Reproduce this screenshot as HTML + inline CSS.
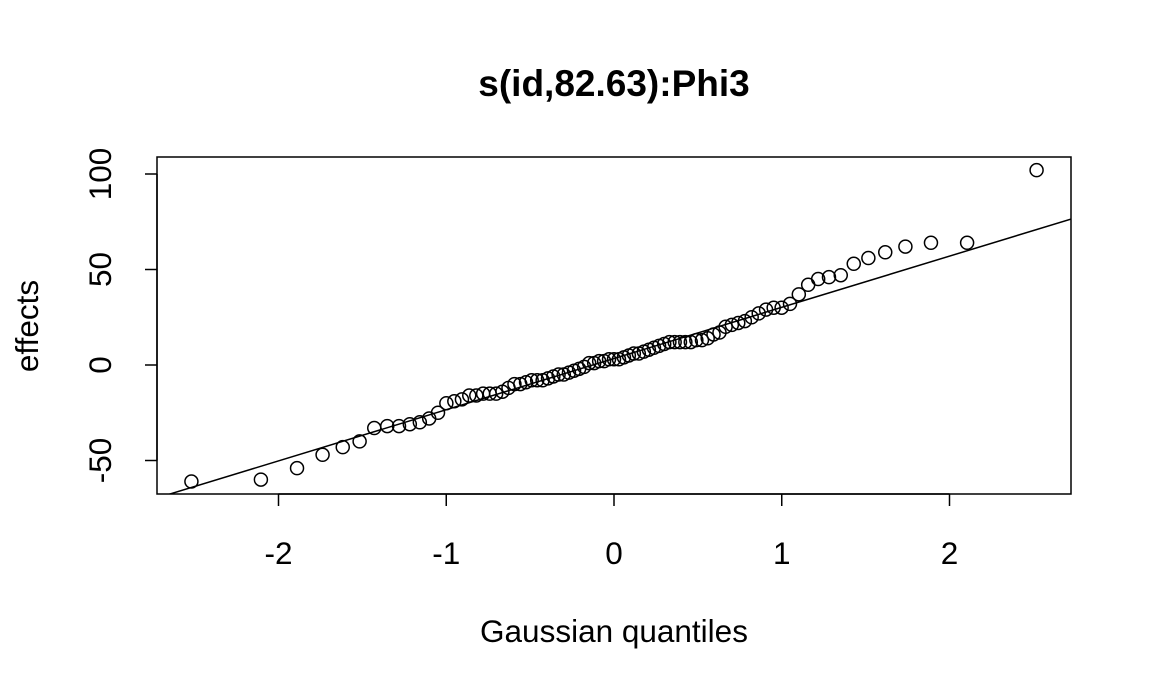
<!DOCTYPE html>
<html><head><meta charset="utf-8"><style>
html,body{margin:0;padding:0;background:#fff;}
svg{display:block;font-family:"Liberation Sans",Arial,sans-serif;}
</style></head><body>
<svg id="chart" width="1152" height="691">
<text x="614" y="96" text-anchor="middle" font-size="37" font-weight="bold">s(id,82.63):Phi3</text>
<rect x="157" y="157" width="914" height="337" fill="none" stroke="#000" stroke-width="1.5"/>
<g id="xaxis"></g>
<g id="yaxis"></g>
<text x="614" y="642" text-anchor="middle" font-size="31.5">Gaussian quantiles</text>
<text transform="translate(38,326) rotate(-90)" text-anchor="middle" font-size="31.5">effects</text>
<g id="plotarea"></g>
</svg>
<script>
const effects = [-61,-60,-54,-47,-43,-40,-33,-32,-32,-31,-30,-28,-25,-20,-19,-18,-16,-16,-15,-15,-15,-14,-12,-10,-10,-9,-8,-8,-8,-7,-6,-5,-5,-4,-3,-2,-1,
1,1,2,2,3,3,3,4,5,6,6,7,8,9,10,11,12,12,12,12,12,13,13,14,16,17,20,21,22,23,25,27,29,30,30,32,
37,42,45,46,47,53,56,59,62,64,64,102];
const xTicks = [-2,-1,0,1,2];
const yTicks = [-50,0,50,100];
const lineIntercept = 3.4;
const lineSlope = 26.8;

const NS="http://www.w3.org/2000/svg";
function X(v){return 614 + v*167.75;}
function Y(v){return 365 - v*1.91;}
function qnorm(p){
  const a=[-39.69683028665376,220.9460984245205,-275.9285104469687,138.3577518672690,-30.66479806614716,2.506628277459239];
  const b=[-54.47609879822406,161.5858368580409,-155.6989798598866,66.80131188771972,-13.28068155288572];
  const c=[-0.007784894002430293,-0.3223964580411365,-2.400758277161838,-2.549732539343734,4.374664141464968,2.938163982698783];
  const d=[0.007784695709041462,0.3224671290700398,2.445134137142996,3.754408661907416];
  let q,r;
  if(p<0.02425){q=Math.sqrt(-2*Math.log(p));return (((((c[0]*q+c[1])*q+c[2])*q+c[3])*q+c[4])*q+c[5])/((((d[0]*q+d[1])*q+d[2])*q+d[3])*q+1);}
  if(p>1-0.02425){q=Math.sqrt(-2*Math.log(1-p));return -(((((c[0]*q+c[1])*q+c[2])*q+c[3])*q+c[4])*q+c[5])/((((d[0]*q+d[1])*q+d[2])*q+d[3])*q+1);}
  q=p-0.5;r=q*q;return (((((a[0]*r+a[1])*r+a[2])*r+a[3])*r+a[4])*r+a[5])*q/(((((b[0]*r+b[1])*r+b[2])*r+b[3])*r+b[4])*r+1);
}
function mk(tag,attrs,parent){const e=document.createElementNS(NS,tag);for(const k in attrs)e.setAttribute(k,attrs[k]);parent.appendChild(e);return e;}
const xa=document.getElementById('xaxis'), ya=document.getElementById('yaxis'), pa=document.getElementById('plotarea');
mk('line',{x1:X(-2),x2:X(2),y1:494,y2:494,stroke:'#000','stroke-width':1.5},xa);
xTicks.forEach(t=>{
  const l=mk('line',{x1:X(t),x2:X(t),y1:494,y2:506,stroke:'#000','stroke-width':1.5},xa);
  
  
  const tx=mk('text',{x:X(t),y:564,'text-anchor':'middle','font-size':31.5},xa);
  tx.textContent=(t<0?'-':'')+Math.abs(t);
  
  
});
mk('line',{x1:157,x2:157,y1:Y(-50),y2:Y(100),stroke:'#000','stroke-width':1.5},ya);
yTicks.forEach(t=>{
  const l=mk('line',{x1:145,x2:157,y1:Y(t),y2:Y(t),stroke:'#000','stroke-width':1.5},ya);
  
  
  const tx=mk('text',{transform:`translate(111,${Y(t)}) rotate(-90)`,'text-anchor':'middle','font-size':31.5},ya);
  tx.textContent=String(t);
  
  
});
const n=effects.length;
const cp=mk('clipPath',{id:'clip'},pa);
mk('rect',{x:157,y:157,width:914,height:337},cp);
const x0=(157-614)/167.75, x1=(1071-614)/167.75;
const ln=mk('line',{x1:X(x0),y1:Y(lineIntercept+lineSlope*x0),x2:X(x1),y2:Y(lineIntercept+lineSlope*x1),stroke:'#000','stroke-width':1.5,'clip-path':'url(#clip)'},pa);


effects.forEach((v,i)=>{
  const q=qnorm((i+1-0.5)/n);
  const c=mk('circle',{cx:X(q),cy:Y(v),r:6.5,fill:'none',stroke:'#000','stroke-width':1.5},pa);
  
  
});
</script>
</body></html>
